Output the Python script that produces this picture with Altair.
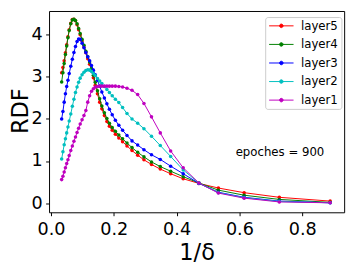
import altair as alt
import pandas as pd

# shared x grid (1/delta)
x_vals = [0.034, 0.038, 0.042, 0.046, 0.050, 0.054, 0.058, 0.063, 0.068, 0.073,
          0.078, 0.083, 0.088, 0.093, 0.099, 0.105, 0.111, 0.117, 0.123, 0.129,
          0.135, 0.141, 0.148, 0.155, 0.162, 0.170, 0.178, 0.186, 0.195, 0.205,
          0.216, 0.228, 0.242, 0.258, 0.276, 0.296, 0.320, 0.348, 0.381, 0.421,
          0.471, 0.533, 0.615, 0.727, 0.889]

layer5 = [3.10, 3.22, 3.38, 3.57, 3.76, 3.95, 4.12, 4.27, 4.36, 4.37,
          4.33, 4.24, 4.12, 4.00, 3.85, 3.71, 3.57, 3.43, 3.30, 3.15,
          2.98, 2.80, 2.60, 2.40, 2.24, 2.08, 1.94, 1.83, 1.73, 1.64,
          1.55, 1.46, 1.36, 1.25, 1.14, 1.03, 0.92, 0.81, 0.70, 0.58,
          0.47, 0.36, 0.25, 0.14, 0.05]

layer4 = [2.88, 3.10, 3.32, 3.53, 3.73, 3.93, 4.10, 4.26, 4.35, 4.37,
          4.34, 4.26, 4.15, 4.03, 3.89, 3.75, 3.61, 3.48, 3.35, 3.20,
          3.04, 2.87, 2.67, 2.48, 2.31, 2.15, 2.01, 1.90, 1.80, 1.71,
          1.62, 1.53, 1.43, 1.32, 1.21, 1.10, 0.98, 0.87, 0.76, 0.63,
          0.48, 0.31, 0.19, 0.09, 0.02]

layer3 = [2.00, 2.18, 2.40, 2.60, 2.77, 2.92, 3.08, 3.25, 3.42, 3.58,
          3.72, 3.84, 3.90, 3.89, 3.80, 3.69, 3.58, 3.48, 3.38, 3.27,
          3.16, 3.05, 2.92, 2.78, 2.64, 2.50, 2.36, 2.23, 2.10, 1.97,
          1.85, 1.73, 1.61, 1.48, 1.38, 1.27, 1.15, 1.04, 0.88, 0.70,
          0.47, 0.26, 0.14, 0.05, 0.01]

layer2 = [1.05, 1.22, 1.39, 1.53, 1.67, 1.81, 1.95, 2.12, 2.30, 2.47,
          2.63, 2.76, 2.87, 2.97, 3.05, 3.11, 3.15, 3.17, 3.16, 3.13,
          3.08, 3.03, 2.96, 2.90, 2.84, 2.77, 2.70, 2.63, 2.55, 2.47,
          2.39, 2.27, 2.13, 2.00, 1.90, 1.77, 1.59, 1.37, 1.11, 0.79,
          0.48, 0.25, 0.13, 0.04, 0.01]

layer1 = [0.56, 0.64, 0.74, 0.84, 0.94, 1.03, 1.13, 1.25, 1.36, 1.47,
          1.57, 1.68, 1.78, 1.88, 1.98, 2.08, 2.20, 2.40, 2.55, 2.66,
          2.72, 2.76, 2.77, 2.78, 2.78, 2.78, 2.78, 2.78, 2.78, 2.78,
          2.77, 2.76, 2.73, 2.68, 2.58, 2.37, 2.05, 1.67, 1.24, 0.84,
          0.48, 0.24, 0.12, 0.03, 0.01]

series_names = ["layer5", "layer4", "layer3", "layer2", "layer1"]
series_vals = [layer5, layer4, layer3, layer2, layer1]
colors = ["#ff0000", "#008000", "#0000ff", "#00bfbf", "#bf00bf"]

x_ticks = [0.0, 0.2, 0.4, 0.6, 0.8]
y_ticks = [0, 1, 2, 3, 4]

note_text = ["epoches = 900"]
note_x = [0.588]
note_y = [1.12]

rows = []
for name, vals in zip(series_names, series_vals):
    for xv, yv in zip(x_vals, vals):
        rows.append({"series": name, "x": xv, "y": yv})
df = pd.DataFrame(rows)

font = "DejaVu Sans"
xscale = alt.Scale(domain=[-0.0062, 0.9335], nice=False, zero=False)
yscale = alt.Scale(domain=[-0.216, 4.564], nice=False, zero=False)
cscale = alt.Scale(domain=series_names, range=colors)

# legend symbol: short line with a dot in its middle
sym_path = "M-1,0H4M1.14,0A0.36,0.36 0 1,0 1.86,0A0.36,0.36 0 1,0 1.14,0Z"
legend = alt.Legend(
    title=None, orient="none", legendX=221.2, legendY=6.2,
    symbolType=sym_path, symbolSize=100, symbolStrokeWidth=1,
    labelFont=font, labelFontSize=12, labelColor="black", labelOffset=21.6,
    padding=3, rowPadding=7, columnPadding=0, columns=1,
    fillColor="rgba(255,255,255,0.8)",
    strokeColor="#cccccc", cornerRadius=2.5,
)

xaxis = alt.Axis(values=x_ticks, format=".1f", title="1/δ", grid=False, domain=False,
                 tickSize=3.5, tickColor="black", tickWidth=1,
                 labelFont=font, labelFontSize=18, labelColor="black", labelPadding=5,
                 titleFont=font, titleFontSize=23, titleFontWeight="normal", titleColor="black",
                 titleX=151, titleY=48, titleBaseline="alphabetic", titleAlign="center")
yaxis = alt.Axis(values=y_ticks, format="d", title="RDF", grid=False, domain=False,
                 tickSize=3.5, tickColor="black", tickWidth=1,
                 labelFont=font, labelFontSize=18, labelColor="black", labelPadding=3.5,
                 titleFont=font, titleFontSize=23, titleFontWeight="normal", titleColor="black",
                 titleX=-22.5, titleY=102, titleAngle=-90, titleBaseline="alphabetic",
                 titleAlign="center")

base = alt.Chart(df)
layers = []
for i, name in enumerate(series_names):
    sub = base.transform_filter(alt.datum.series == name)
    enc = dict(
        x=alt.X("x:Q", scale=xscale, axis=xaxis),
        y=alt.Y("y:Q", scale=yscale, axis=yaxis),
        color=alt.Color("series:N", scale=cscale, legend=legend, sort=series_names),
    )
    layers.append(sub.mark_line(strokeWidth=1).encode(**enc))
    layers.append(sub.mark_point(filled=True, size=13, opacity=1).encode(**enc))

note_df = pd.DataFrame({"t": note_text, "x": note_x, "y": note_y})
note = alt.Chart(note_df).mark_text(align="left", baseline="alphabetic", font=font,
                                    fontSize=12, color="black").encode(
    x=alt.X("x:Q", scale=xscale, axis=xaxis),
    y=alt.Y("y:Q", scale=yscale, axis=yaxis), text="t:N")
layers.append(note)

chart = alt.layer(*layers).properties(
    width=302, height=206,
    autosize=alt.AutoSizeParams(type="none"),
    padding={"left": 42, "top": 0, "right": 7, "bottom": 57},
    background="white",
).configure_view(stroke="black", strokeWidth=1)

chart.save("out.html", embed_options={"renderer": "svg", "actions": False})
